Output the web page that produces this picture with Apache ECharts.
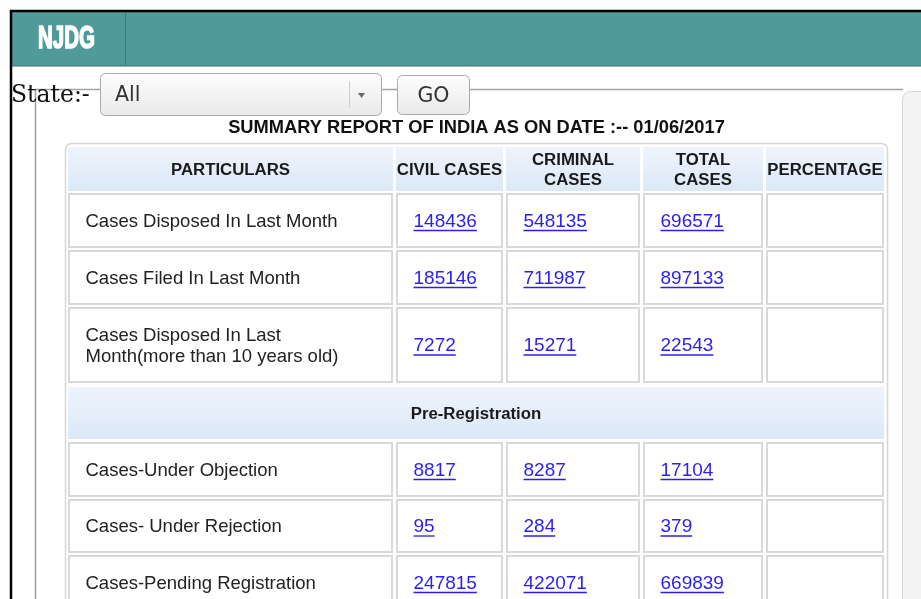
<!DOCTYPE html>
<html>
<head>
<meta charset="utf-8">
<script src="https://cdn.jsdelivr.net/npm/echarts@6/dist/echarts.min.js"></script>
<style>
  html, body { margin: 0; padding: 0; background: #fff; }
  #chart { width: 921px; height: 599px; }
</style>
</head>
<body>
<div id="chart"></div>
<script>
// table content
const columns = ['PARTICULARS', 'CIVIL CASES', 'CRIMINAL\nCASES', 'TOTAL\nCASES', 'PERCENTAGE'];
const particulars = [
  'Cases Disposed In Last Month',
  'Cases Filed In Last Month',
  'Cases Disposed In Last\nMonth(more than 10 years old)',
  'Cases-Under Objection',
  'Cases- Under Rejection',
  'Cases-Pending Registration'
];
const civilCases = [148436, 185146, 7272, 8817, 95, 247815];
const criminalCases = [548135, 711987, 15271, 8287, 284, 422071];
const totalCases = [696571, 897133, 22543, 17104, 379, 669839];
const percentage = ['', '', '', '', '', ''];
const sectionTitle = 'Pre-Registration';
const reportTitle = 'SUMMARY REPORT OF INDIA AS ON DATE :-- 01/06/2017';
const stateLabel = 'State:-';
const stateValue = 'All';
const goLabel = 'GO';
const brand = 'NJDG';

// layout (pixels)
const colLeft = [68, 396, 506, 643, 766];
const colRight = [393, 503, 640, 763, 884];
const headerRow = [147, 191];
const bodyRows = [[193, 248], [250, 305], [307, 383], [442, 497], [499, 553], [555, 610]];
const sectionRow = [387, 439];

const SANS = '"Liberation Sans", Arial, sans-serif';
const linkColor = '#2a1fee';
const cellBorder = '#d9d9d9';

const measure = (function () {
  const ctx = document.createElement('canvas').getContext('2d');
  return function (text, font) { ctx.font = font; return ctx.measureText(text).width; };
})();

function headGradient() {
  return new echarts.graphic.LinearGradient(0, 0, 0, 1, [
    { offset: 0, color: '#eef4fc' },
    { offset: 1, color: '#dce8f7' }
  ]);
}

// build the cells list from the arrays
const cells = [];
columns.forEach((c, i) => cells.push({ kind: 'head', col: i, text: c }));
cells.push({ kind: 'section', col: 0, text: sectionTitle });
particulars.forEach((p, r) => {
  const vals = [p, civilCases[r], criminalCases[r], totalCases[r], percentage[r]];
  vals.forEach((v, c) => cells.push({ kind: c === 0 ? 'label' : 'link', col: c, row: r, text: String(v) }));
});

function renderItem(params, api) {
  const cell = cells[params.dataIndex];
  let x0, x1, y0, y1;
  if (cell.kind === 'head') {
    x0 = colLeft[cell.col]; x1 = colRight[cell.col]; y0 = headerRow[0]; y1 = headerRow[1];
  } else if (cell.kind === 'section') {
    x0 = colLeft[0]; x1 = colRight[colRight.length - 1]; y0 = sectionRow[0]; y1 = sectionRow[1];
  } else {
    x0 = colLeft[cell.col]; x1 = colRight[cell.col]; y0 = bodyRows[cell.row][0]; y1 = bodyRows[cell.row][1];
  }
  const p0 = api.coord([x0, y0]);
  const p1 = api.coord([x1, y1]);
  const w = p1[0] - p0[0], h = p1[1] - p0[1];
  const cy = p0[1] + h / 2;
  const children = [];
  if (cell.kind === 'head' || cell.kind === 'section') {
    children.push({ type: 'rect', shape: { x: p0[0], y: p0[1], width: w, height: h }, style: { fill: headGradient() } });
    children.push({
      type: 'text',
      style: {
        text: cell.text, x: p0[0] + w / 2, y: cy + 1,
        font: 'bold 16.8px ' + SANS, fill: '#1a1a1a',
        align: 'center', verticalAlign: 'middle', lineHeight: 20
      }
    });
  } else {
    children.push({
      type: 'rect', shape: { x: p0[0] + 1, y: p0[1] + 1, width: w - 2, height: h - 2 },
      style: { fill: '#fff', stroke: cellBorder, lineWidth: 2 }
    });
    if (cell.text) {
      const font = (cell.kind === 'link' ? '19px ' : '18.5px ') + SANS;
      const tx = p0[0] + 17.5;
      children.push({
        type: 'text',
        style: {
          text: cell.text, x: tx, y: cy + 1, font: font,
          fill: cell.kind === 'link' ? linkColor : '#222',
          align: 'left', verticalAlign: 'middle', lineHeight: 21
        }
      });
      if (cell.kind === 'link') {
        const tw = measure(cell.text, font);
        children.push({
          type: 'line', shape: { x1: tx, y1: cy + 10, x2: tx + tw, y2: cy + 10 },
          style: { stroke: linkColor, lineWidth: 1.3 }
        });
      }
    }
  }
  return { type: 'group', children: children };
}

const chart = echarts.init(document.getElementById('chart'), null, { renderer: 'canvas' });

const btnGradient = new echarts.graphic.LinearGradient(0, 0, 0, 1, [
  { offset: 0, color: '#fdfdfd' },
  { offset: 1, color: '#e9e9e9' }
]);

chart.setOption({
  backgroundColor: '#fff',
  animation: false,
  grid: { left: 0, right: 0, top: 0, bottom: 0 },
  xAxis: { type: 'value', min: 0, max: 921, show: false },
  yAxis: { type: 'value', min: 0, max: 599, inverse: true, show: false },
  graphic: [
    // page frame and teal header
    { type: 'rect', z: 0, shape: { x: 12, y: 12, width: 909, height: 54 }, style: { fill: '#509a9a' } },
    { type: 'line', z: 1, shape: { x1: 12, y1: 66, x2: 921, y2: 66 }, style: { stroke: '#3d6f6f', lineWidth: 1 } },
    { type: 'line', z: 1, shape: { x1: 125.5, y1: 12, x2: 125.5, y2: 66 }, style: { stroke: '#3f7c7c', lineWidth: 1 } },
    { type: 'line', z: 2, shape: { x1: 10, y1: 11, x2: 921, y2: 11 }, style: { stroke: '#000', lineWidth: 2.5 } },
    { type: 'line', z: 2, shape: { x1: 11, y1: 10, x2: 11, y2: 599 }, style: { stroke: '#000', lineWidth: 2.5 } },
    {
      type: 'text', z: 2, x: 38, y: 39, scaleX: 0.66,
      style: { text: brand, font: 'bold 31px ' + SANS, fill: '#fff', stroke: '#fff', lineWidth: 1.6, align: 'left', verticalAlign: 'middle' }
    },
    // panel lines
    { type: 'line', z: 0, shape: { x1: 35, y1: 89.5, x2: 903, y2: 89.5 }, style: { stroke: '#a3a3a3', lineWidth: 1.5 } },
    { type: 'line', z: 0, shape: { x1: 35.5, y1: 89, x2: 35.5, y2: 599 }, style: { stroke: '#9c9c9c', lineWidth: 1.5 } },
    { type: 'rect', z: 0, shape: { x: 902.5, y: 91.5, width: 30, height: 540, r: 8 }, style: { fill: '#f4f4f4', stroke: '#d4d4d4', lineWidth: 1 } },
    // state selector
    {
      type: 'text', z: 3, x: 11, y: 96,
      style: { text: stateLabel, font: '23.5px "DejaVu Serif", serif', fill: '#111', align: 'left', verticalAlign: 'middle' }
    },
    { type: 'rect', z: 1, shape: { x: 100.5, y: 73.5, width: 281, height: 42, r: 5 }, style: { fill: btnGradient, stroke: '#aaa', lineWidth: 1 } },
    { type: 'text', z: 2, x: 115, y: 96, style: { text: stateValue, font: '20.5px "DejaVu Sans", sans-serif', fill: '#333', align: 'left', verticalAlign: 'middle' } },
    { type: 'line', z: 2, shape: { x1: 349.5, y1: 81, x2: 349.5, y2: 108 }, style: { stroke: '#cfcfcf', lineWidth: 1 } },
    { type: 'polygon', z: 2, shape: { points: [[358, 93], [365, 93], [361.5, 98]] }, style: { fill: '#666' } },
    { type: 'rect', z: 1, shape: { x: 397.5, y: 75.5, width: 72, height: 39, r: 5 }, style: { fill: btnGradient, stroke: '#aaa', lineWidth: 1 } },
    { type: 'text', z: 2, x: 433.5, y: 97, style: { text: goLabel, font: '20.5px "DejaVu Sans", sans-serif', fill: '#333', align: 'center', verticalAlign: 'middle' } },
    // report title
    { type: 'text', z: 2, x: 476.5, y: 128, style: { text: reportTitle, font: 'bold 18.3px ' + SANS, fill: '#111', align: 'center', verticalAlign: 'middle' } },
    // table outer frame
    { type: 'rect', z: 0, shape: { x: 65.5, y: 143.5, width: 822, height: 500, r: 6 }, style: { fill: '#fff', stroke: '#d6d6d6', lineWidth: 1.5 } }
  ],
  series: [{
    type: 'custom',
    coordinateSystem: 'cartesian2d',
    clip: false,
    renderItem: renderItem,
    data: cells.map((c, i) => [c.col, i])
  }]
});
</script>
</body>
</html>
